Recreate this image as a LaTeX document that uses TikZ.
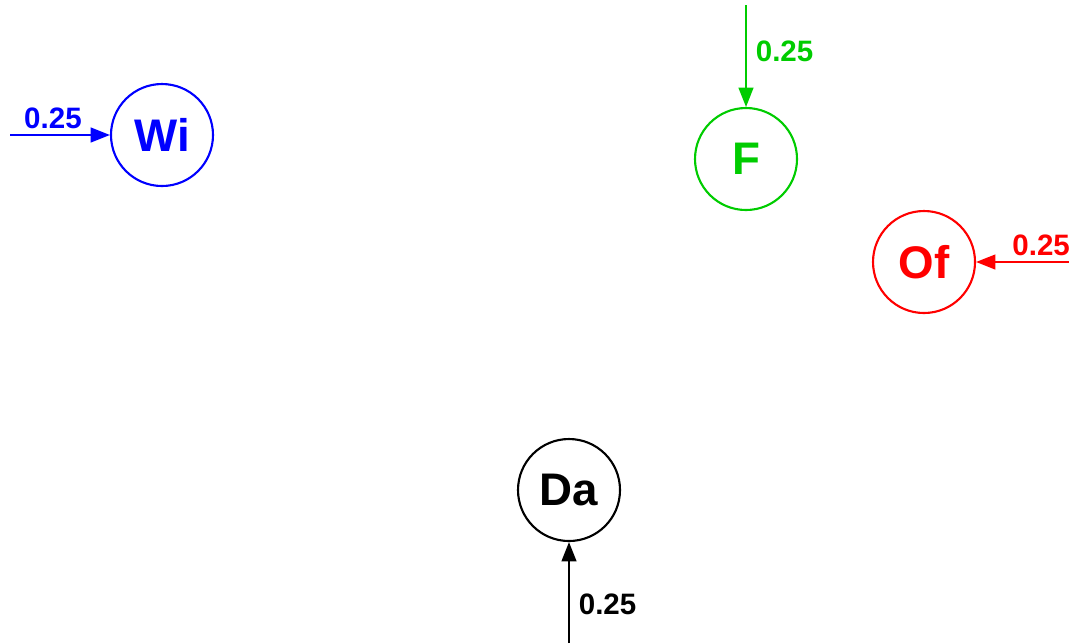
\documentclass[tikz,border=0pt]{standalone}
\usepackage{fontspec}
\setmainfont{Liberation Sans}
\usetikzlibrary{arrows.meta, positioning}

\definecolor{wiblue}{RGB}{0,0,255}
\definecolor{fgreen}{RGB}{0,204,0}
\definecolor{ofred}{RGB}{255,0,0}

\begin{document}
\begin{tikzpicture}[
  state/.style={circle, draw, line width=0.6pt, inner sep=0pt,
                minimum size=1.02cm, font=\fontsize{13}{14}\selectfont\bfseries},
  wlbl/.style={font=\fontsize{8.4}{9}\selectfont\bfseries, inner sep=1.5pt},
  arr/.style={draw, line width=0.6pt, -{Triangle[length=5.5pt, width=4.2pt]}}
]

%% 版面大小
\useasboundingbox (0,0) rectangle (10.69,-6.43);

%% 狀態節點
\node[state, draw=wiblue, text=wiblue] (wi) at (1.62,-1.35) {Wi};
\node[state, draw=fgreen, text=fgreen] (f)  at (7.46,-1.59) {F};
\node[state, draw=ofred,  text=ofred]  (of) at (9.24,-2.62) {Of};
\node[state]                           (da) at (5.69,-4.90) {Da};

%% 入口
\coordinate (wiin) at (0.10,-1.35);
\coordinate (fin)  at (7.46,-0.05);
\coordinate (ofin) at (10.69,-2.62);
\coordinate (dain) at (5.69,-6.43);

%% 初始機率
\draw[arr, color=wiblue] (wiin) -- (wi.west)
    node[pos=0.43, above, wlbl] {0.25};
\draw[arr, color=fgreen] (fin) -- (f.north)
    node[pos=0.45, right, wlbl, xshift=1pt] {0.25};
\draw[arr, color=ofred] (ofin) -- (of.east)
    node[pos=0.3, above, wlbl] {0.25};
\draw[arr] (dain) -- (da.south)
    node[pos=0.38, right, wlbl, xshift=1pt] {0.25};

\end{tikzpicture}
\end{document}
